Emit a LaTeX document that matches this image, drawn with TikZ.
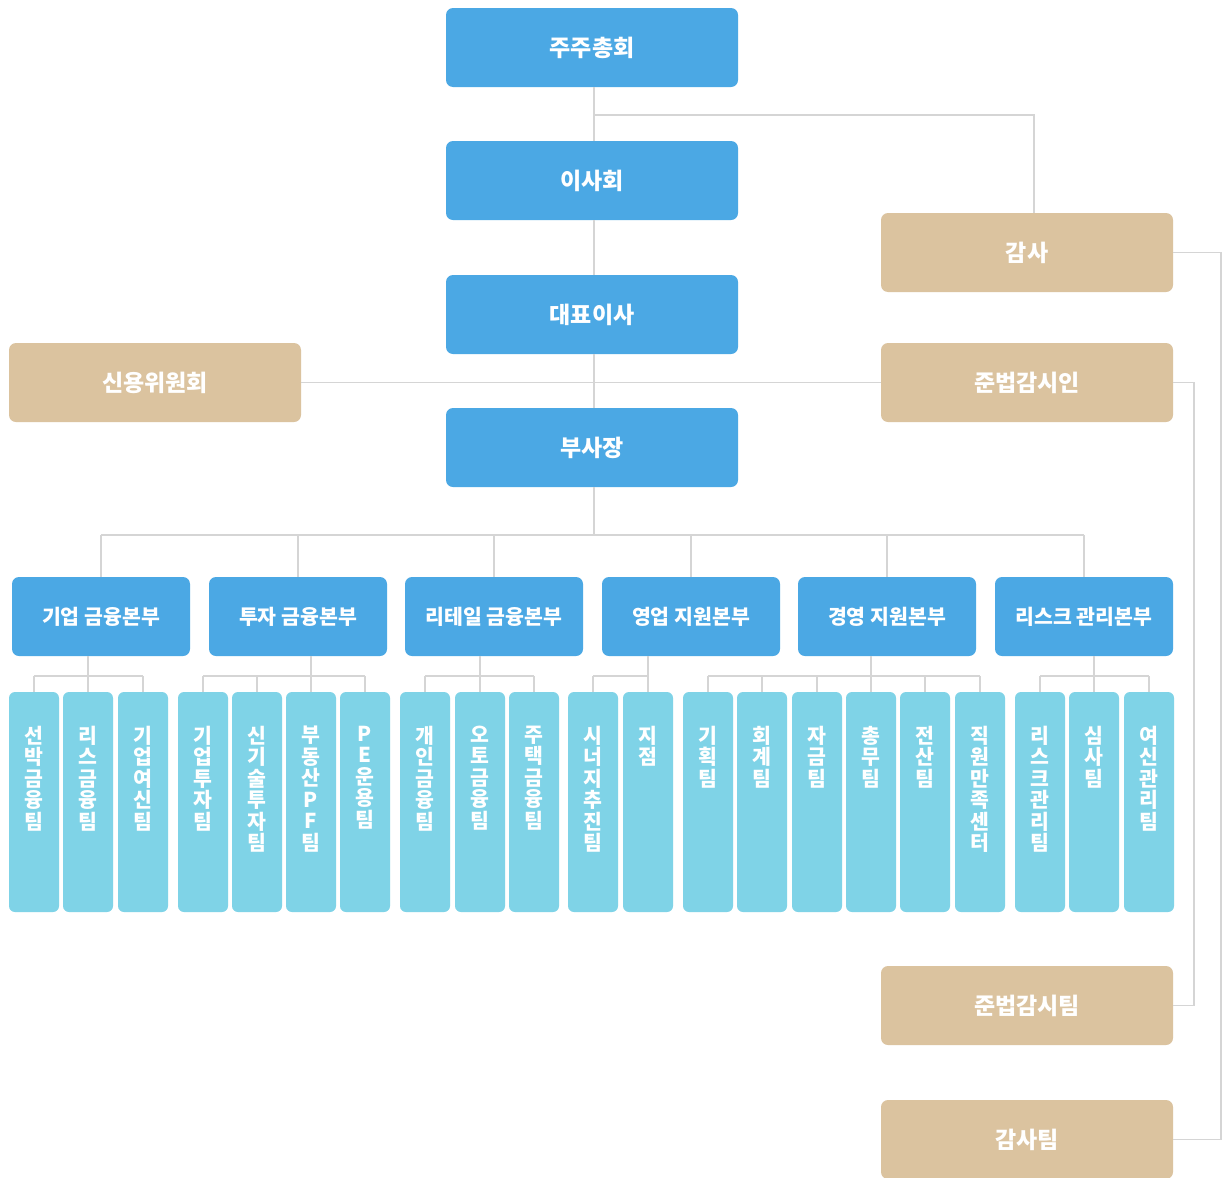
\documentclass[tikz,border=0pt]{standalone}
\usepackage{fontspec}
\setmainfont{Noto Sans CJK KR}
\definecolor{mainblue}{HTML}{4BA8E4}
\definecolor{teamblue}{HTML}{7FD3E7}
\definecolor{tan}{HTML}{DBC39F}
\definecolor{linegray}{HTML}{D5D5D5}
\tikzset{
  conn/.style={draw=linegray, line width=1.3pt},
  bigbox/.style={fill=mainblue, rounded corners=7pt, minimum width=292pt, minimum height=79pt, inner sep=0pt, text=white, font=\fontsize{23}{27}\selectfont\bfseries},
  tanbox/.style={bigbox, fill=tan},
  divbox/.style={bigbox, minimum width=178pt, font=\fontsize{20.5}{24}\selectfont\bfseries},
  teambox/.style={fill=teamblue, rounded corners=6pt, minimum width=50pt, minimum height=220pt, inner sep=0pt},
  tl/.style={anchor=north, yshift=-34pt, align=center, inner sep=0pt, text=white, font=\fontsize{20.5}{21.5}\selectfont\bfseries},
}
\begin{document}
\begin{tikzpicture}[x=1pt, y=-1pt]
\useasboundingbox (0,0) rectangle (1224,1178);
\fill[white] (0,0) rectangle (1224,1178);
% coordinates for connector routing
\coordinate (vx) at (594,0);
\coordinate (gx) at (1034,0);
\coordinate (j1) at (594,115);
\coordinate (bus) at (594,535);
\coordinate (sb) at (0,676);
\coordinate (r1) at (1221,0);
\coordinate (r2) at (1194,0);
% top boxes
\node[bigbox] (t1) at (592,47.5) {주주총회};
\node[bigbox] (t2) at (592,180.5) {이사회};
\node[bigbox] (t3) at (592,314.5) {대표이사};
\node[bigbox] (t4) at (592,447.5) {부사장};
\node[tanbox] (credit) at (155,382.5) {신용위원회};
\node[tanbox] (gamsa) at (1027,252.5) {감사};
\node[tanbox] (comp) at (1027,382.5) {준법감시인};
\node[tanbox] (compteam) at (1027,1005.5) {준법감시팀};
\node[tanbox] (gteam) at (1027,1139.5) {감사팀};
% divisions
\node[divbox] (d1) at (101,616.5) {기업 금융본부};
\node[divbox] (d2) at (298,616.5) {투자 금융본부};
\node[divbox] (d3) at (494,616.5) {리테일 금융본부};
\node[divbox] (d4) at (691,616.5) {영업 지원본부};
\node[divbox] (d5) at (887,616.5) {경영 지원본부};
\node[divbox] (d6) at (1084,616.5) {리스크 관리본부};
% teams
\node[teambox, label={[tl]north:선\\박\\금\\융\\팀}] (a1) at (34,802) {};
\node[teambox, label={[tl]north:리\\스\\금\\융\\팀}] (a2) at (88,802) {};
\node[teambox, label={[tl]north:기\\업\\여\\신\\팀}] (a3) at (143,802) {};
\node[teambox, label={[tl]north:기\\업\\투\\자\\팀}] (b1) at (203,802) {};
\node[teambox, label={[tl]north:신\\기\\술\\투\\자\\팀}] (b2) at (257,802) {};
\node[teambox, label={[tl]north:부\\동\\산\\P\\F\\팀}] (b3) at (311,802) {};
\node[teambox, label={[tl]north:P\\E\\운\\용\\팀}] (b4) at (365,802) {};
\node[teambox, label={[tl]north:개\\인\\금\\융\\팀}] (c1) at (425,802) {};
\node[teambox, label={[tl]north:오\\토\\금\\융\\팀}] (c2) at (480,802) {};
\node[teambox, label={[tl]north:주\\택\\금\\융\\팀}] (c3) at (534,802) {};
\node[teambox, label={[tl]north:시\\너\\지\\추\\진\\팀}] (e1) at (593,802) {};
\node[teambox, label={[tl]north:지\\점}] (e2) at (648,802) {};
\node[teambox, label={[tl]north:기\\획\\팀}] (f1) at (708,802) {};
\node[teambox, label={[tl]north:회\\계\\팀}] (f2) at (762,802) {};
\node[teambox, label={[tl]north:자\\금\\팀}] (f3) at (817,802) {};
\node[teambox, label={[tl]north:총\\무\\팀}] (f4) at (871,802) {};
\node[teambox, label={[tl]north:전\\산\\팀}] (f5) at (925,802) {};
\node[teambox, label={[tl]north:직\\원\\만\\족\\센\\터}] (f6) at (980,802) {};
\node[teambox, label={[tl]north:리\\스\\크\\관\\리\\팀}] (g1) at (1040,802) {};
\node[teambox, label={[tl]north:심\\사\\팀}] (g2) at (1094,802) {};
\node[teambox, label={[tl]north:여\\신\\관\\리\\팀}] (g3) at (1149,802) {};
% connectors
\path[conn] (t1.south -| vx) -- (t2.north -| vx);
\path[conn] (t2.south -| vx) -- (t3.north -| vx);
\path[conn] (t3.south -| vx) -- (t4.north -| vx);
\path[conn] (j1) -| (gamsa.north -| gx);
\path[conn] (credit.east) -- (comp.west);
\path[conn] (t4.south -| vx) -- (bus);
\path[conn] (d1.north |- bus) -- (d6.north |- bus);
\foreach \d in {d1,d2,d3,d4,d5,d6} { \path[conn] (\d.north |- bus) -- (\d.north); }
% sub buses
\path[conn] (a1.north |- sb) -- (a3.north |- sb);
\path[conn] (b1.north |- sb) -- (b4.north |- sb);
\path[conn] (c1.north |- sb) -- (c3.north |- sb);
\path[conn] (e1.north |- sb) -- (e2.north |- sb);
\path[conn] (f1.north |- sb) -- (f6.north |- sb);
\path[conn] (g1.north |- sb) -- (g3.north |- sb);
\foreach \t in {a1,a2,a3,b1,b2,b3,b4,c1,c2,c3,e1,e2,f1,f2,f3,f4,f5,f6,g1,g2,g3} { \path[conn] (\t.north) -- (\t.north |- sb); }
\path[conn] (a2.north |- d1.south) -- (a2.north |- sb);
\path[conn] (b3.north |- d2.south) -- (b3.north |- sb);
\path[conn] (c2.north |- d3.south) -- (c2.north |- sb);
\path[conn] (e2.north |- d4.south) -- (e2.north |- sb);
\path[conn] (f4.north |- d5.south) -- (f4.north |- sb);
\path[conn] (g2.north |- d6.south) -- (g2.north |- sb);
% right side
\path[conn] (gamsa.east) -- (gamsa.east -| r1) -- (gteam.east -| r1) -- (gteam.east);
\path[conn] (comp.east) -- (comp.east -| r2) -- (compteam.east -| r2) -- (compteam.east);
\end{tikzpicture}
\end{document}
